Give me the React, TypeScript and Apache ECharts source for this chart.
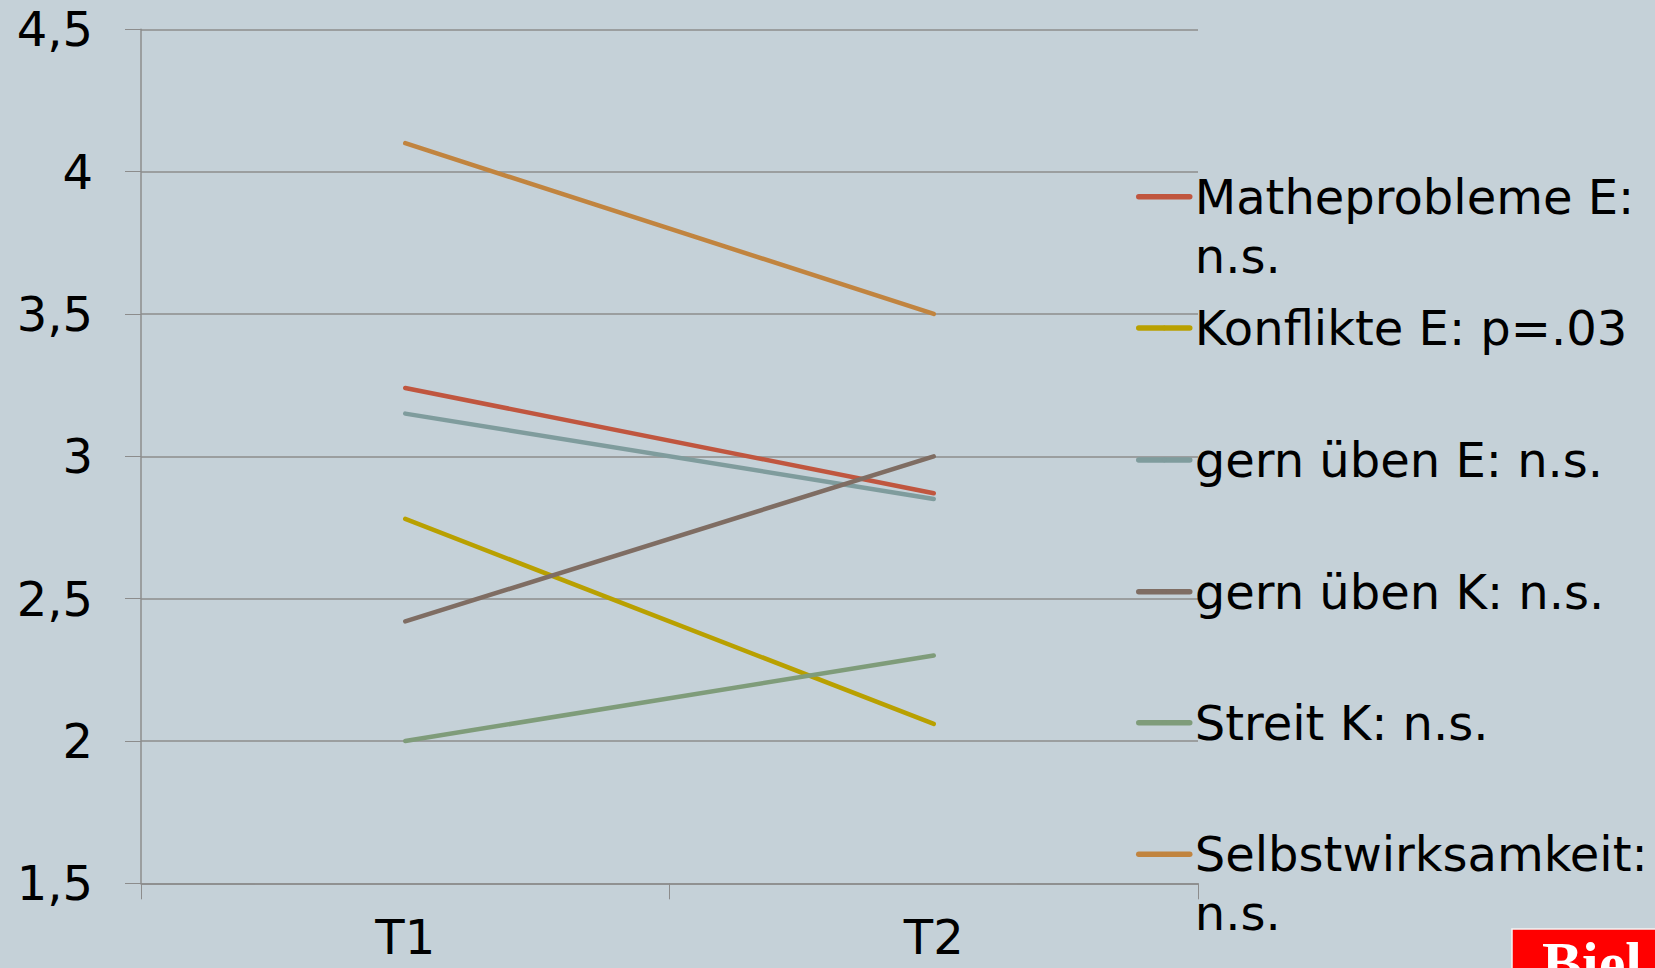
import React, { useEffect, useRef } from "react";
import * as echarts from "echarts";

const categories = ["T1", "T2"];
const seriesNames = [
  "Matheprobleme E: n.s.",
  "Konflikte E: p=.03",
  "gern üben E: n.s.",
  "gern üben K: n.s.",
  "Streit K: n.s.",
  "Selbstwirksamkeit: n.s.",
];
const legendLabels = [
  " \nMatheprobleme E:\nn.s.",
  "Konflikte E: p=.03",
  "gern üben E: n.s.",
  "gern üben K: n.s.",
  "Streit K: n.s.",
  " \nSelbstwirksamkeit:\nn.s.",
];
const matheprobleme = [3.24, 2.87];
const konflikte = [2.78, 2.06];
const gernUebenE = [3.15, 2.85];
const gernUebenK = [2.42, 3.0];
const streit = [2.0, 2.3];
const selbstwirksamkeit = [4.1, 3.5];
const seriesValues = [matheprobleme, konflikte, gernUebenE, gernUebenK, streit, selbstwirksamkeit];
const colors = ["#C0563F", "#B9A000", "#7F9C9D", "#7F6D63", "#7F9C7A", "#C1843F"];
const yTicks = { min: 1.5, max: 4.5, interval: 0.5 };

const FONT = "DejaVu Sans";
const LH = 59;
const legendIconCenters = [196.7, 328, 460, 591.7, 722.7, 854.3];

export default function App() {
  const ref = useRef<HTMLDivElement>(null);
  useEffect(() => {
    document.body.style.margin = "0";
    const chart = echarts.init(ref.current!, undefined, { renderer: "svg" });
    const legends = seriesNames.map((name, i) => {
      const lines = legendLabels[i].split("\n").length;
      const offset = (LH * lines) / 2;
      return {
        show: true,
        data: [name],
        orient: "vertical",
        left: 1136,
        top: legendIconCenters[i] - offset,
        padding: 0,
        itemWidth: 51,
        itemHeight: 6,
        selectedMode: false,
        lineStyle: { width: 5.5, cap: "round" },
        formatter: () => legendLabels[i],
        textStyle: {
          fontFamily: FONT,
          fontSize: 48,
          color: "#000",
          lineHeight: LH,
        },
      };
    });
    chart.setOption({
      animation: false,
      backgroundColor: "#C5D1D8",
      textStyle: { fontFamily: FONT },
      grid: { left: 141, right: 457, top: 29.3, bottom: 84.7 },
      legend: legends,
      xAxis: {
        type: "category",
        data: categories,
        boundaryGap: true,
        axisLine: { lineStyle: { color: "#8C8C8C", width: 1.5 } },
        axisTick: { show: true, length: 16, lineStyle: { color: "#8C8C8C" } },
        axisLabel: { fontFamily: FONT, fontSize: 48, lineHeight: 46, color: "#000", margin: 31 },
        splitLine: { show: false },
      },
      yAxis: {
        type: "value",
        min: yTicks.min,
        max: yTicks.max,
        interval: yTicks.interval,
        axisLine: { show: true, lineStyle: { color: "#8C8C8C", width: 1.5 } },
        axisTick: { show: true, length: 16, lineStyle: { color: "#8C8C8C" } },
        axisLabel: {
          fontFamily: FONT,
          fontSize: 48,
          color: "#000",
          margin: 48,
          formatter: (v: number) => String(v).replace(".", ","),
        },
        splitLine: { show: true, lineStyle: { color: "#8C8C8C", width: 1.5 } },
      },
      series: seriesNames.map((name, i) => ({
        name,
        type: "line",
        data: seriesValues[i],
        symbol: "none",
        color: colors[i],
        lineStyle: { width: 4.5, color: colors[i], cap: "round" },
      })),
      graphic: [
        {
          type: "rect",
          shape: { x: 1512, y: 929, width: 200, height: 60 },
          style: { fill: "#FF0000", stroke: "#F4F4F4", lineWidth: 1.5 },
        },
        {
          type: "text",
          x: 1542,
          y: 933,
          style: {
            text: "Biel",
            fill: "#FFFFFF",
            font: "bold 60px 'Liberation Serif', serif",
            verticalAlign: "top",
          },
        },
      ],
    });
    return () => chart.dispose();
  }, []);
  return <div ref={ref} style={{ width: 1655, height: 968, position: "absolute", left: 0, top: 0 }} />;
}
